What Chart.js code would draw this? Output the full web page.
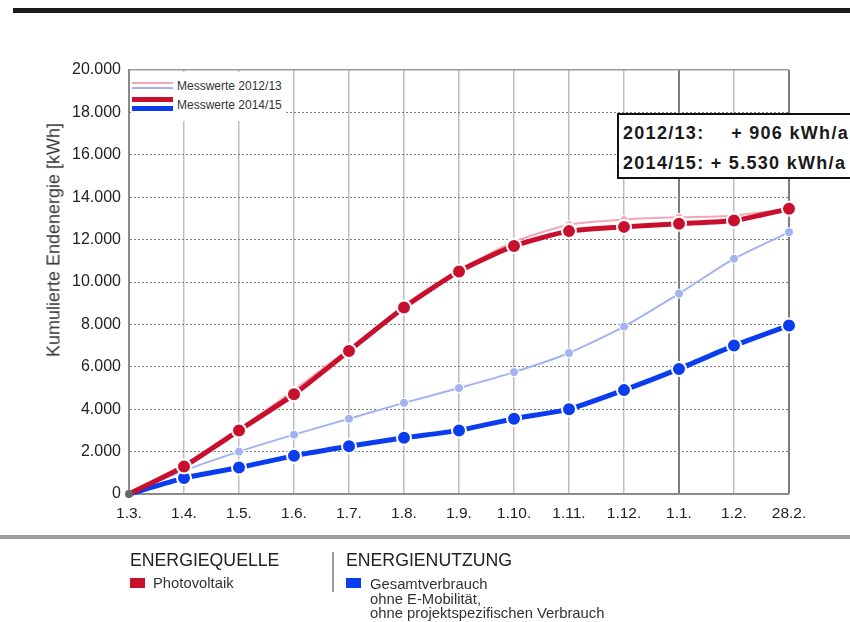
<!DOCTYPE html>
<html lang="de">
<head>
<meta charset="utf-8">
<title>Kumulierte Endenergie</title>
<script src="https://cdn.jsdelivr.net/npm/chart.js@4.4.1/dist/chart.umd.min.js"></script>
<style>
  html, body { margin: 0; padding: 0; background: #fff; }
  body { width: 850px; height: 622px; position: relative; overflow: hidden;
         font-family: "Liberation Sans", Arial, sans-serif; color: #222; }
  #chart { position: absolute; left: 0; top: 0; }
  .abs { position: absolute; }
  .topbar { left: 13px; top: 8px; width: 837px; height: 5px; background: #1b1a1e; }
  .bottombar { left: 0; top: 535px; width: 850px; height: 4px; background: #a0a0a0; }
  .ytitle { left: 54px; top: 240px; font-size: 18px; color: #333; white-space: nowrap;
            transform: translate(-50%, -50%) rotate(-90deg); }
  .legendbox { left: 131px; top: 72px; width: 154px; height: 49px; background: #fff; }
  .lg-line { position: absolute; left: 1px; width: 41px; }
  .lg-text { position: absolute; left: 46px; font-size: 12px; line-height: 12px; color: #333; white-space: nowrap; }
  .note { left: 617px; top: 113px; width: 240px; height: 62px; background: #fff;
          border: 2px solid #111; font-weight: bold; font-size: 18px; letter-spacing: 1.3px; color: #1a1a1a; }
  .note div { position: absolute; left: 4px; width: 226px; white-space: nowrap; line-height: 20px; }
  .note span.r { position: absolute; right: 0; }
  .head { font-size: 17.7px; line-height: 20px; color: #222; white-space: nowrap; }
  .swatch { width: 15px; height: 10px; }
  .item { font-size: 14.8px; line-height: 14.5px; color: #333; white-space: nowrap; }
  .sep { left: 332px; top: 552px; width: 2px; height: 40px; background: #9a9a9a; }
</style>
</head>
<body>
<canvas id="chart" width="850" height="622"></canvas>

<div class="abs topbar"></div>
<div class="abs ytitle">Kumulierte Endenergie [kWh]</div>

<div class="abs legendbox">
  <div class="lg-line" style="top:10px;height:2px;background:#f2a7b6"></div>
  <div class="lg-line" style="top:15px;height:2px;background:#a3b3f2"></div>
  <div class="lg-text" style="top:8px">Messwerte 2012/13</div>
  <div class="lg-line" style="top:25px;height:5px;background:#c8102e"></div>
  <div class="lg-line" style="top:34px;height:5px;background:#0a3cf0"></div>
  <div class="lg-text" style="top:27px">Messwerte 2014/15</div>
</div>

<div class="abs note">
  <div style="top:8px">2012/13:<span class="r">+ 906 kWh/a</span></div>
  <div style="top:38px">2014/15: + 5.530 kWh/a</div>
</div>

<div class="abs bottombar"></div>
<div class="abs head" style="left:130px;top:550px">ENERGIEQUELLE</div>
<div class="abs swatch" style="left:130px;top:578px;background:#c8102e"></div>
<div class="abs item" style="left:153px;top:576px">Photovoltaik</div>
<div class="abs sep"></div>
<div class="abs head" style="left:346px;top:550px">ENERGIENUTZUNG</div>
<div class="abs swatch" style="left:346px;top:578px;background:#0a3cf0"></div>
<div class="abs item" style="left:370px;top:577px">Gesamtverbrauch<br>ohne E-Mobilität,<br>ohne projektspezifischen Verbrauch</div>

<script>
const months = ['1.3.', '1.4.', '1.5.', '1.6.', '1.7.', '1.8.', '1.9.', '1.10.', '1.11.', '1.12.', '1.1.', '1.2.', '28.2.']

// Photovoltaik (Erzeugung), kumuliert in kWh
const pv2014 = [0, 1300, 3000, 4700, 6750, 8800, 10500, 11700, 12400, 12600, 12750, 12900, 13450]
const pv2012 = [0, 1300, 3050, 4900, 6850, 8850, 10550, 11900, 12700, 12950, 13050, 13130, 13450]

// Gesamtverbrauch ohne E-Mobilität, kumuliert in kWh
const use2014 = [0, 750, 1250, 1800, 2250, 2650, 3000, 3550, 4000, 4900, 5900, 7000, 7950]
const use2012 = [0, 1100, 2000, 2800, 3550, 4300, 5000, 5750, 6650, 7900, 9450, 11100, 12350]

const yTicks = [0, 2000, 4000, 6000, 8000, 10000, 12000, 14000, 16000, 18000, 20000]

const fmt = v => String(v).replace(/\B(?=(\d{3})+(?!\d))/g, '.')

const red = '#c8102e'
const blue = '#0a3cf0'
const pink = '#f2a7b6'
const lightBlue = '#a3b3f2'

// first point of the top series is the small grey origin dot
const originRadius = big => ctx => ctx.dataIndex === 0 ? 0 : big

const ctx = document.getElementById('chart').getContext('2d')

new Chart(ctx, {
    type: 'line',
    data: {
        labels: months,
        datasets: [
            {
                label: 'Photovoltaik 2014/15',
                data: pv2014,
                borderColor: red,
                borderWidth: 5,
                pointBackgroundColor: c => c.dataIndex === 0 ? '#666' : red,
                pointBorderColor: c => c.dataIndex === 0 ? '#666' : '#fff',
                pointBorderWidth: c => c.dataIndex === 0 ? 0 : 2,
                pointRadius: c => c.dataIndex === 0 ? 4 : 7,
                tension: 0.2,
                clip: false
            },
            {
                label: 'Gesamtverbrauch 2014/15',
                data: use2014,
                borderColor: blue,
                borderWidth: 5,
                pointBackgroundColor: blue,
                pointBorderColor: '#fff',
                pointBorderWidth: 2,
                pointRadius: originRadius(7),
                tension: 0.2,
                clip: false
            },
            {
                label: 'Photovoltaik 2012/13',
                data: pv2012,
                borderColor: pink,
                borderWidth: 2,
                pointBackgroundColor: pink,
                pointBorderColor: '#fff',
                pointBorderWidth: 1,
                pointRadius: originRadius(4),
                tension: 0.2,
                clip: false
            },
            {
                label: 'Gesamtverbrauch 2012/13',
                data: use2012,
                borderColor: lightBlue,
                borderWidth: 2,
                pointBackgroundColor: lightBlue,
                pointBorderColor: '#fff',
                pointBorderWidth: 1,
                pointRadius: originRadius(4.5),
                tension: 0.2,
                clip: false
            }
        ]
    },
    options: {
        responsive: false,
        animation: false,
        layout: {
            padding: { top: 70, right: 61, bottom: 0, left: 0 }
        },
        plugins: {
            legend: { display: false },
            tooltip: { enabled: false }
        },
        scales: {
            x: {
                offset: false,
                afterFit: scale => { scale.height = 128 },
                grid: {
                    offset: false,
                    drawTicks: false,
                    // 1.1. (Jahreswechsel) and the right edge are darker
                    color: c => (c.index === 10 || c.index === 12) ? '#7c7c7c' : '#bdbdbd',
                    lineWidth: c => (c.index === 10 || c.index === 12) ? 2 : 1.5
                },
                border: { color: '#8a8a8a', width: 2 },
                ticks: {
                    color: '#222',
                    padding: 10,
                    maxRotation: 0,
                    autoSkip: false,
                    font: { family: 'Liberation Sans, Arial, sans-serif', size: 15.5 }
                }
            },
            y: {
                min: yTicks[0],
                max: yTicks[yTicks.length - 1],
                afterFit: scale => { scale.width = 129 },
                afterBuildTicks: scale => { scale.ticks = yTicks.map(v => ({ value: v })) },
                grid: {
                    drawTicks: false,
                    color: c => c.index === yTicks.length - 1 ? '#9a9a9a' : '#808080',
                    lineWidth: c => c.index === yTicks.length - 1 ? 1.5 : 1
                },
                border: {
                    color: '#8a8a8a',
                    width: 2,
                    dash: c => (c.index === 0 || c.index === yTicks.length - 1) ? [] : [2, 2]
                },
                ticks: {
                    color: '#222',
                    padding: 8,
                    callback: v => fmt(v),
                    font: { family: 'Liberation Sans, Arial, sans-serif', size: 16 }
                }
            }
        }
    }
})
</script>
</body>
</html>
